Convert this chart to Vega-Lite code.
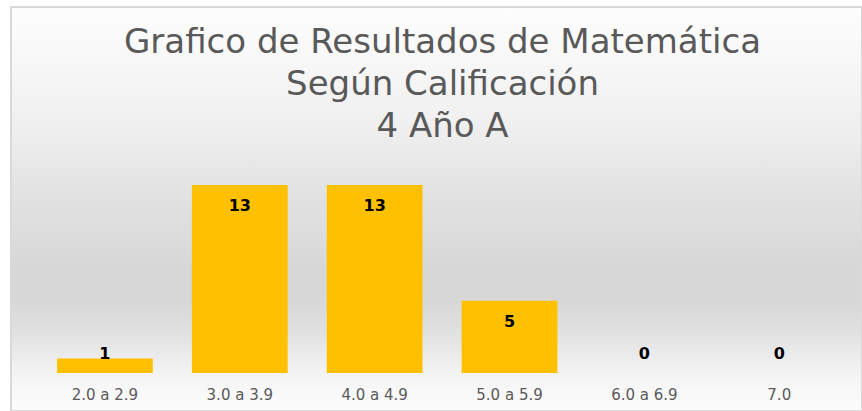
{
  "$schema": "https://vega.github.io/schema/vega-lite/v6.json",
  "width": 851,
  "height": 404,
  "autosize": {"type": "none"},
  "padding": {"left": 11, "top": 7, "right": 0, "bottom": 0},
  "background": "#ffffff",
  "config": {
    "view": {
      "fill": {
        "gradient": "linear",
        "x1": 0, "y1": 0, "x2": 0, "y2": 1,
        "stops": [
          {"offset": 0, "color": "#fdfdfd"},
          {"offset": 0.08, "color": "#fafafa"},
          {"offset": 0.285, "color": "#f0f0f0"},
          {"offset": 0.465, "color": "#e2e2e2"},
          {"offset": 0.65, "color": "#d7d7d7"},
          {"offset": 0.725, "color": "#d7d7d7"},
          {"offset": 0.8, "color": "#e0e0e0"},
          {"offset": 0.855, "color": "#eaeaea"},
          {"offset": 0.91, "color": "#f4f4f4"},
          {"offset": 0.96, "color": "#f9f9f9"},
          {"offset": 1, "color": "#fbfbfb"}
        ]
      },
      "stroke": "#d9d9d9",
      "strokeWidth": 2
    }
  },
  "title": {
    "text": ["Grafico de Resultados de Matemática", "Según Calificación", "4 Año A"],
    "font": "DejaVu Sans",
    "fontSize": 34,
    "fontWeight": "normal",
    "color": "#595959",
    "lineHeight": 42,
    "anchor": "middle",
    "frame": "group",
    "baseline": "alphabetic",
    "offset": 0,
    "dy": 164,
    "dx": 6
  },
  "data": {
    "values": [
      {"rango": "2.0 a 2.9", "cantidad": 1},
      {"rango": "3.0 a 3.9", "cantidad": 13},
      {"rango": "4.0 a 4.9", "cantidad": 13},
      {"rango": "5.0 a 5.9", "cantidad": 5},
      {"rango": "6.0 a 6.9", "cantidad": 0},
      {"rango": "7.0", "cantidad": 0}
    ]
  },
  "encoding": {
    "x": {
      "field": "rango",
      "type": "nominal",
      "sort": null,
      "scale": {"paddingInner": 0.29, "paddingOuter": 0.3, "align": 0.569},
      "axis": {
        "title": null,
        "offset": -38,
        "domain": false,
        "ticks": false,
        "labelAngle": 0,
        "labelFont": "DejaVu Sans",
        "labelFontSize": 15,
        "labelColor": "#595959",
        "labelBaseline": "middle",
        "labelPadding": 21,
        "grid": false
      }
    }
  },
  "layer": [
    {
      "mark": {"type": "bar", "color": "#FFC000"},
      "encoding": {
        "y": {
          "field": "cantidad",
          "type": "quantitative",
          "scale": {"domain": [-2.628, 25.31], "nice": false, "zero": false},
          "axis": null
        }
      }
    },
    {
      "transform": [{"filter": "datum.cantidad >= 2"}],
      "mark": {"type": "text", "font": "DejaVu Sans", "fontWeight": "bold", "fontSize": 16, "color": "#000000", "baseline": "middle", "dy": 21},
      "encoding": {
        "y": {"field": "cantidad", "type": "quantitative"},
        "text": {"field": "cantidad", "type": "quantitative"}
      }
    },
    {
      "transform": [{"filter": "datum.cantidad < 2"}],
      "mark": {"type": "text", "font": "DejaVu Sans", "fontWeight": "bold", "fontSize": 16, "color": "#000000", "baseline": "middle"},
      "encoding": {
        "y": {"datum": 1.3, "type": "quantitative"},
        "text": {"field": "cantidad", "type": "quantitative"}
      }
    }
  ]
}
